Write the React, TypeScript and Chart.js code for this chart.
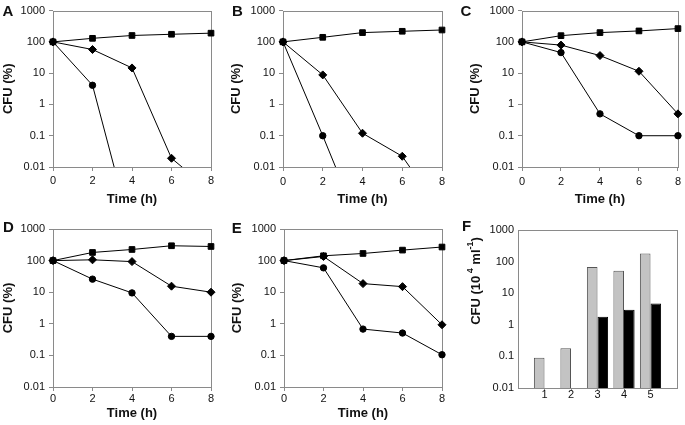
import React, { useEffect, useRef } from "react";
import { Chart, registerables } from "chart.js";

Chart.register(...registerables);

// ---------- data ----------
const timeH = [0, 2, 4, 6, 8];
const xTickValues = [0, 2, 4, 6, 8];
const yTickValues = [0.01, 0.1, 1, 10, 100, 1000];

const aSquare = [100, 130, 160, 175, 190];
const aDiamond = [100, 57, 14.7, 0.019, 0.0017];
const aCircle = [100, 4.1, 0.00007, null, null];

const bSquare = [100, 140, 198, 218, 240];
const bDiamond = [100, 8.8, 0.12, 0.022, 0.00034];
const bCircle = [100, 0.1, 0.00008, null, null];

const cSquare = [100, 158, 198, 224, 266];
const cDiamond = [100, 79, 36.5, 11.5, 0.5];
const cCircle = [100, 45.5, 0.5, 0.1, 0.1];

const dSquare = [100, 181, 225, 295, 280];
const dDiamond = [100, 106, 93, 15.5, 10];
const dCircle = [100, 25.9, 9.5, 0.4, 0.4];

const eSquare = [100, 142, 168, 215, 269];
const eDiamond = [100, 135, 18.7, 15, 0.93];
const eCircle = [100, 59, 0.68, 0.51, 0.105];

const fCategories = [1, 2, 3, 4, 5];
const fGray = [0.09, 0.18, 67, 51, 182];
const fBlack = [null, null, 1.8, 3.0, 4.7];

// ---------- style ----------
const FONT = "'Liberation Sans', Arial, Helvetica, sans-serif";
const TEXT = "#111";
const AXIS = "#8a8a8a";

type Geo = { left: number; top: number; width: number; height: number; pl: number; pt: number; pr: number; pb: number };

const geoA: Geo = { left: 0, top: 0, width: 228, height: 212, pl: 53, pt: 10, pr: 211, pb: 167 };
const geoB: Geo = { left: 228, top: 0, width: 228, height: 212, pl: 283, pt: 10, pr: 442, pb: 167 };
const geoC: Geo = { left: 456, top: 0, width: 229, height: 212, pl: 522, pt: 10, pr: 679, pb: 167 };
const geoD: Geo = { left: 0, top: 212, width: 228, height: 213, pl: 53, pt: 229, pr: 211, pb: 387 };
const geoE: Geo = { left: 228, top: 212, width: 228, height: 213, pl: 284, pt: 229, pr: 442, pb: 387 };
const geoF: Geo = { left: 456, top: 212, width: 229, height: 213, pl: 518, pt: 230, pr: 677, pb: 388 };

const panelPlugin = {
  id: "panelText",
  beforeDatasetsDraw(chart: any) {
    const { ctx, chartArea } = chart;
    ctx.save();
    ctx.strokeStyle = AXIS;
    ctx.lineWidth = 1;
    const l = Math.round(chartArea.left) + 0.5;
    const t = Math.round(chartArea.top) + 0.5;
    const r = Math.round(chartArea.right) + 0.5;
    const b = Math.round(chartArea.bottom) + 0.5;
    ctx.strokeRect(l, t, r - l, b - t);
    ctx.restore();
  },
  afterDraw(chart: any, _a: any, o: any) {
    const ctx = chart.ctx;
    ctx.save();
    ctx.fillStyle = TEXT;
    ctx.textBaseline = "middle";
    ctx.textAlign = "center";
    ctx.font = `bold 15px ${FONT}`;
    ctx.fillText(o.letter, o.lx, o.ly);
    if (o.parts) {
      ctx.translate(o.tx, o.ty);
      ctx.rotate(-Math.PI / 2);
      ctx.textAlign = "left";
      const big = `bold 13px ${FONT}`;
      const small = `bold 9px ${FONT}`;
      let total = 0;
      for (const p of o.parts) {
        ctx.font = p.sup ? small : big;
        total += ctx.measureText(p.t).width;
      }
      let x = -total / 2;
      for (const p of o.parts) {
        ctx.font = p.sup ? small : big;
        ctx.fillText(p.t, x, p.sup ? -5 : 0);
        x += ctx.measureText(p.t).width;
      }
    }
    ctx.restore();
  },
};

function layoutPadding(g: Geo) {
  return { top: g.pt - g.top, right: g.left + g.width - g.pr, left: 0, bottom: 0 };
}

function yLogScale(g: Geo, title: any, drawTicks: boolean) {
  return {
    type: "logarithmic",
    min: 0.01,
    max: 1000,
    beginAtZero: false,
    afterBuildTicks: (s: any) => {
      s.ticks = yTickValues.map((v) => ({ value: v }));
    },
    afterFit: (s: any) => {
      s.width = g.pl - g.left;
    },
    ticks: {
      color: TEXT,
      font: { size: 11, family: FONT },
      padding: 4,
      callback: (v: any) => String(v),
    },
    grid: { drawOnChartArea: false, drawTicks, tickLength: 4, color: AXIS },
    border: { display: false },
    title,
  };
}

function pts(arr: (number | null)[]) {
  return timeH.map((t, i) => ({ x: t, y: arr[i] }));
}

function ds(arr: (number | null)[], style: string, r: number) {
  return {
    data: pts(arr),
    borderColor: "#000",
    borderWidth: 1,
    pointStyle: style,
    pointRadius: r,
    pointBackgroundColor: "#000",
    pointBorderColor: "#000",
    pointBorderWidth: 1,
    tension: 0,
    clip: { left: 8, right: 8, top: 8, bottom: 0 },
  };
}

function lineConfig(
  g: Geo,
  sq: (number | null)[],
  di: (number | null)[],
  ci: (number | null)[],
  letter: string,
  lx: number,
  ly: number,
  yTitlePad: number,
  xTitlePad: number,
  xTickPad: number
) {
  return {
    type: "line",
    data: {
      datasets: [ds(ci, "circle", 3.2), ds(di, "rectRot", 4), ds(sq, "rect", 4)],
    },
    plugins: [panelPlugin],
    options: {
      animation: false,
      responsive: false,
      events: [],
      layout: { padding: layoutPadding(g) },
      plugins: {
        legend: { display: false },
        tooltip: { enabled: false },
        panelText: { letter, lx, ly },
      },
      scales: {
        x: {
          type: "linear",
          min: 0,
          max: 8,
          afterBuildTicks: (s: any) => {
            s.ticks = xTickValues.map((v) => ({ value: v }));
          },
          afterFit: (s: any) => {
            s.height = g.top + g.height - g.pb;
          },
          ticks: { color: TEXT, font: { size: 11, family: FONT }, padding: xTickPad, maxRotation: 0 },
          grid: { drawOnChartArea: false, drawTicks: true, tickLength: 4, color: AXIS },
          border: { display: false },
          title: {
            display: true,
            text: "Time (h)",
            color: TEXT,
            font: { size: 13, weight: "bold", family: FONT },
            padding: { top: 0, bottom: xTitlePad },
          },
        },
        y: yLogScale(
          g,
          {
            display: true,
            text: "CFU (%)",
            color: TEXT,
            font: { size: 13, weight: "bold", family: FONT },
            padding: { top: yTitlePad, bottom: 0 },
          },
          true
        ),
      },
    },
  };
}

function barConfig(g: Geo) {
  return {
    type: "bar",
    data: {
      datasets: [
        {
          data: fCategories.map((c, i) => ({ x: c, y: fGray[i] })),
          backgroundColor: "#c3c3c3",
          borderColor: "#555",
          borderWidth: 1,
          categoryPercentage: 0.8,
          barPercentage: 1,
        },
        {
          data: fCategories.map((c, i) => ({ x: c, y: fBlack[i] })),
          backgroundColor: "#000",
          borderColor: "#000",
          borderWidth: 1,
          categoryPercentage: 0.8,
          barPercentage: 1,
        },
      ],
    },
    plugins: [panelPlugin],
    options: {
      animation: false,
      responsive: false,
      events: [],
      layout: { padding: layoutPadding(g) },
      plugins: {
        legend: { display: false },
        tooltip: { enabled: false },
        panelText: {
          letter: "F",
          lx: 10.7,
          ly: 15,
          tx: 20,
          ty: 69,
          parts: [
            { t: "CFU (10", sup: false },
            { t: " 4", sup: true },
            { t: " ml", sup: false },
            { t: "-1", sup: true },
            { t: ")", sup: false },
          ],
        },
      },
      scales: {
        x: {
          type: "linear",
          min: 0,
          max: 6,
          offset: false,
          afterBuildTicks: (s: any) => {
            s.ticks = fCategories.map((v) => ({ value: v }));
          },
          afterFit: (s: any) => {
            s.height = g.top + g.height - g.pb;
          },
          ticks: { color: TEXT, font: { size: 11, family: FONT }, padding: -3, maxRotation: 0 },
          grid: { drawOnChartArea: false, drawTicks: true, tickLength: 3, color: AXIS, offset: false },
          border: { display: false },
          title: { display: false },
        },
        y: yLogScale(g, { display: false }, false),
      },
    },
  };
}

const panels: { geo: Geo; build: () => any }[] = [
  { geo: geoA, build: () => lineConfig(geoA, aSquare, aDiamond, aCircle, "A", 8, 12, 0.5, 5, 3.5) },
  { geo: geoB, build: () => lineConfig(geoB, bSquare, bDiamond, bCircle, "B", 9.5, 12, 0.5, 5, 4) },
  { geo: geoC, build: () => lineConfig(geoC, cSquare, cDiamond, cCircle, "C", 10, 12, 11.2, 5, 4) },
  { geo: geoD, build: () => lineConfig(geoD, dSquare, dDiamond, dCircle, "D", 8.3, 16, 0.5, 4, 1.5) },
  { geo: geoE, build: () => lineConfig(geoE, eSquare, eDiamond, eCircle, "E", 8.7, 16.7, 1.5, 4, 1.5) },
  { geo: geoF, build: () => barConfig(geoF) },
];

function Panel({ geo, build }: { geo: Geo; build: () => any }) {
  const ref = useRef<HTMLCanvasElement>(null);
  useEffect(() => {
    const chart = new Chart(ref.current as HTMLCanvasElement, build());
    return () => chart.destroy();
  }, []);
  return (
    <canvas
      ref={ref}
      width={geo.width}
      height={geo.height}
      style={{ position: "absolute", left: geo.left, top: geo.top, width: geo.width, height: geo.height }}
    />
  );
}

export default function App() {
  return (
    <div style={{ position: "fixed", left: 0, top: 0, width: 685, height: 425, background: "#fff", overflow: "hidden" }}>
      {panels.map((p, i) => (
        <Panel key={i} geo={p.geo} build={p.build} />
      ))}
    </div>
  );
}
